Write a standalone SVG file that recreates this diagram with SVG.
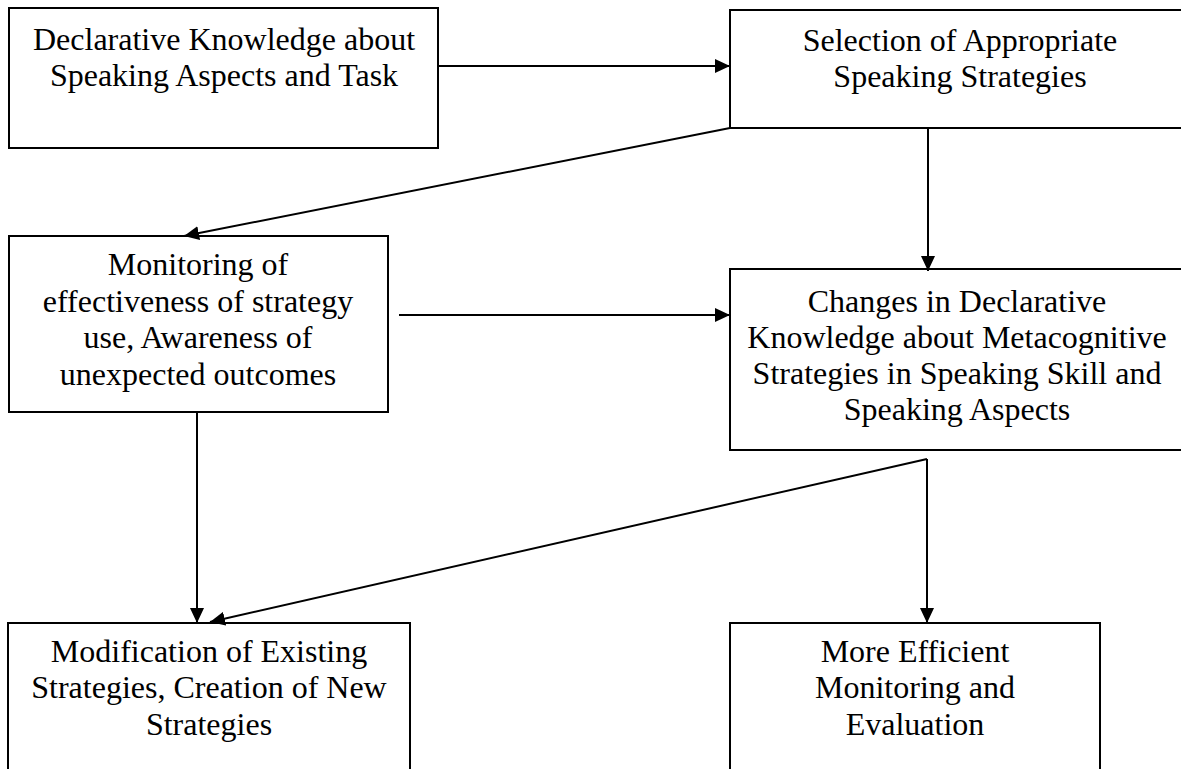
<svg xmlns="http://www.w3.org/2000/svg" width="1181" height="769" viewBox="0 0 1181 769">
<style>
.box{fill:#fff;stroke:#000;stroke-width:2}
.t{font-family:"Liberation Serif","Times New Roman",serif;font-size:32px;fill:#000;text-anchor:middle}
.c{stroke:#000;stroke-width:2;fill:none;marker-end:url(#ah)}
</style>
<defs>
<marker id="ah" markerUnits="userSpaceOnUse" markerWidth="16" markerHeight="14" refX="15" refY="7" orient="auto">
<path d="M0,0 L15,7 L0,14 Z" fill="#000"/>
</marker>
</defs>
<rect width="1181" height="769" fill="#fff"/>
<g id="n1">
<rect class="box" x="9" y="8" width="429" height="140"/>
<text class="t" x="224" y="50">Declarative Knowledge about</text>
<text class="t" x="224" y="86">Speaking Aspects and Task</text>
</g>
<g id="n2">
<rect class="box" x="730" y="10" width="452" height="118"/>
<text class="t" x="960" y="51">Selection of Appropriate</text>
<text class="t" x="960" y="87">Speaking Strategies</text>
</g>
<g id="n3">
<rect class="box" x="9" y="236" width="379" height="176"/>
<text class="t" x="198" y="275">Monitoring of</text>
<text class="t" x="198" y="312">effectiveness of strategy</text>
<text class="t" x="198" y="348">use, Awareness of</text>
<text class="t" x="198" y="385">unexpected outcomes</text>
</g>
<g id="n4">
<rect class="box" x="730" y="269" width="452" height="181"/>
<text class="t" x="957" y="312">Changes in Declarative</text>
<text class="t" x="957" y="348">Knowledge about Metacognitive</text>
<text class="t" x="957" y="384">Strategies in Speaking Skill and</text>
<text class="t" x="957" y="420">Speaking Aspects</text>
</g>
<g id="n5">
<rect class="box" x="8" y="623" width="402" height="160"/>
<text class="t" x="209" y="662">Modification of Existing</text>
<text class="t" x="209" y="698">Strategies, Creation of New</text>
<text class="t" x="209" y="735">Strategies</text>
</g>
<g id="n6">
<rect class="box" x="730" y="623" width="370" height="160"/>
<text class="t" x="915" y="662">More Efficient</text>
<text class="t" x="915" y="698">Monitoring and</text>
<text class="t" x="915" y="735">Evaluation</text>
</g>
<g id="connectors">
<line class="c" x1="438" y1="66" x2="730" y2="66"/>
<line class="c" x1="730" y1="128" x2="184" y2="236"/>
<line class="c" x1="928" y1="128" x2="928" y2="271"/>
<line class="c" x1="399" y1="315" x2="730" y2="315"/>
<line class="c" x1="197" y1="412" x2="197" y2="623"/>
<line class="c" x1="927" y1="459" x2="210" y2="622"/>
<line class="c" x1="927" y1="459" x2="927" y2="623"/>
</g>
</svg>
